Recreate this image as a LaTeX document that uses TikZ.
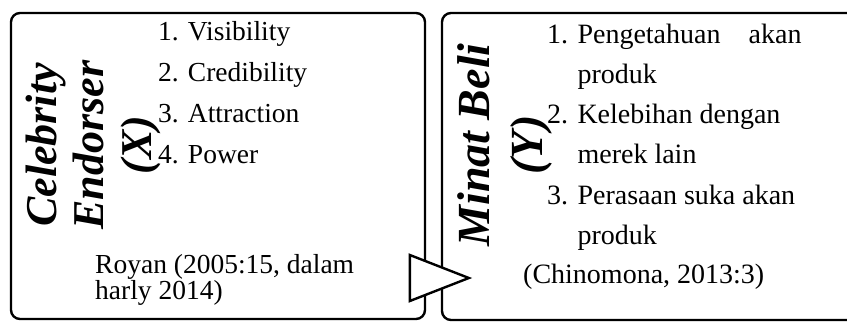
\documentclass[tikz,border=0pt]{standalone}
\usepackage{fontspec}
\setmainfont{Liberation Serif}
\usetikzlibrary{shapes.geometric, positioning}

\tikzstyle{block} = [rectangle, rounded corners=9pt,
line width=2.4pt,
draw=black,
fill=white,
inner sep=0pt]
\tikzstyle{title} = [rotate=90,
align=center,
inner sep=0pt]
\tikzstyle{item} = [anchor=base west,
inner sep=0pt]
\tikzstyle{arrowhead} = [isosceles triangle,
isosceles triangle stretches=true,
minimum width=46pt,
minimum height=59pt,
inner sep=0pt,
line width=2.4pt,
draw=black,
fill=white]

\begin{document}
\begin{tikzpicture}[x=1pt, y=-1pt]
\useasboundingbox (0,0) rectangle (847,322);
\clip (0,0) rectangle (847,322);
\fill[white] (0,0) rectangle (847,322);

\node (box1) [block, minimum width=414pt, minimum height=306pt] at (218,166) {};
\node (box2) [block, minimum width=420pt, minimum height=307pt] at (652,166.5) {};

\node (title1) [title, font=\fontsize{44}{47.5}\selectfont\bfseries\itshape] at (93,145) {Celebrity\\Endorser\\(X)};
\node (title2) [title, font=\fontsize{46}{53}\selectfont\bfseries\itshape] at (505,145) {Minat Beli\\(Y)};

\node (list1) [item, font=\fontsize{27.5}{41}\selectfont] at (158,40)
  {\begin{tabular}[t]{@{}l@{}}1. Visibility\\2. Credibility\\3. Attraction\\4. Power\end{tabular}};
\node (src1) [item, font=\fontsize{27.5}{23.5}\selectfont] at (95,273)
  {\begin{tabular}[t]{@{}l@{}}Royan (2005:15, dalam\\harly 2014)\end{tabular}};

\node (list2) [item, font=\fontsize{28}{40.3}\selectfont] at (547,43)
  {\begin{tabular}[t]{@{}l@{ }l@{}}1. & \makebox[224pt][s]{Pengetahuan akan}\\ & produk\\2. & Kelebihan dengan\\ & merek lain\\3. & Perasaan suka akan\\ & produk\end{tabular}};
\node (src2) [item, font=\fontsize{28}{34}\selectfont] at (523,283) {(Chinomona, 2013:3)};

\node (tip) [arrowhead, anchor=apex] at (472,278) {};

\end{tikzpicture}
\end{document}
